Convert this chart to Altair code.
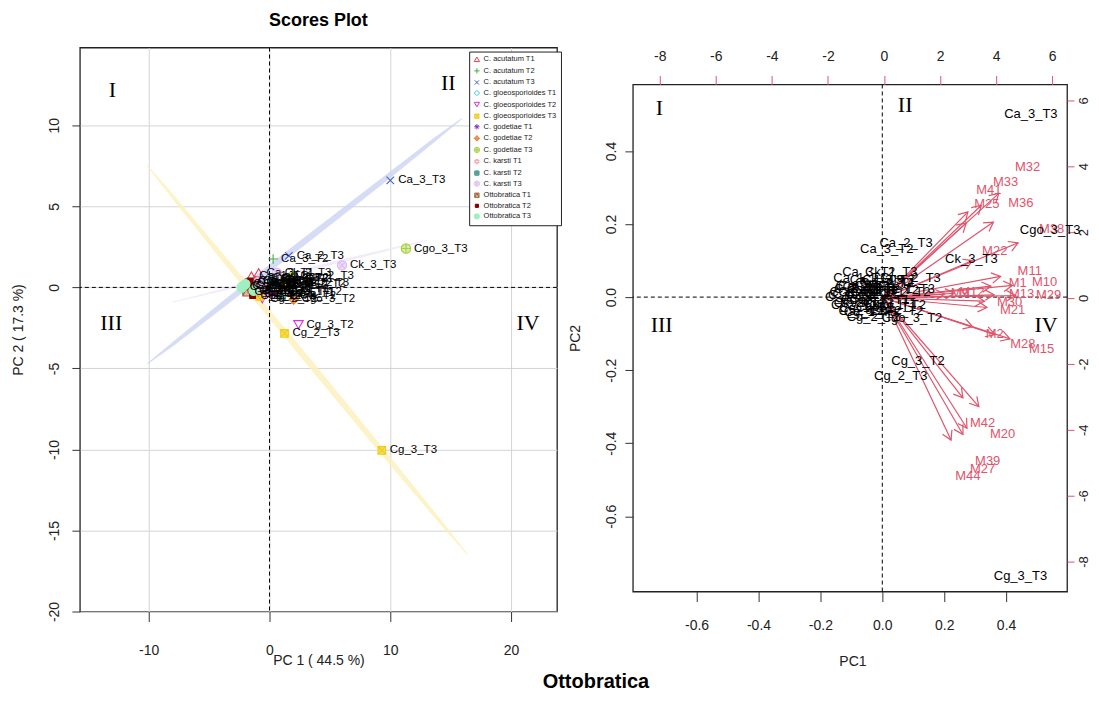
import altair as alt
import numpy as np
import pandas as pd

FONT = "Liberation Sans"
SERIF = "Liberation Serif"
RED = "#DF536B"

# ---------------- groups / legend ----------------
groups = ["C. acutatum T1", "C. acutatum T2", "C. acutatum T3",
          "C. gloeosporioides T1", "C. gloeosporioides T2", "C. gloeosporioides T3",
          "C. godetiae T1", "C. godetiae T2", "C. godetiae T3",
          "C. karsti T1", "C. karsti T2", "C. karsti T3",
          "Ottobratica T1", "Ottobratica T2", "Ottobratica T3"]
group_colors = ["#e0405a", "#3cb043", "#4060d8", "#38c8f0", "#e030e0", "#f0cc10",
                "#8030c0", "#f07828", "#a8d040", "#f4aab4", "#3a8f8a", "#dcbcf4",
                "#a06030", "#800000", "#9ef0c0"]
group_fills = ["transparent", "transparent", "transparent", "transparent", "transparent",
               "rgba(240,204,16,0.55)", "rgba(128,48,192,0.6)", "rgba(240,120,40,0.35)",
               "rgba(168,208,64,0.45)", "rgba(244,170,180,0.45)", "rgba(58,143,138,0.45)",
               "rgba(220,188,244,0.55)", "rgba(160,96,48,0.4)", "#800000", "#9ef0c0"]
group_shapes = [
    "triangle-up",
    "M-1,0L1,0M0,-1L0,1",
    "M-0.8,-0.8L0.8,0.8M-0.8,0.8L0.8,-0.8",
    "diamond",
    "triangle-down",
    "M-0.8,-0.8L0.8,-0.8L0.8,0.8L-0.8,0.8ZM-0.8,-0.8L0.8,0.8M-0.8,0.8L0.8,-0.8",
    "M-1,0L1,0M0,-1L0,1M-0.7,-0.7L0.7,0.7M-0.7,0.7L0.7,-0.7",
    "M0,-1L1,0L0,1L-1,0ZM-1,0L1,0M0,-1L0,1",
    "M-1,0A1,1,0,1,1,1,0A1,1,0,1,1,-1,0ZM-1,0L1,0M0,-1L0,1",
    "M0,-1L0.87,0.5L-0.87,0.5ZM0,1L0.87,-0.5L-0.87,-0.5Z",
    "M-0.8,-0.8L0.8,-0.8L0.8,0.8L-0.8,0.8ZM-0.8,0L0.8,0M0,-0.8L0,0.8",
    "M-1,0A1,1,0,1,1,1,0A1,1,0,1,1,-1,0ZM-0.7,-0.7L0.7,0.7M-0.7,0.7L0.7,-0.7",
    "M-0.8,-0.8L0.8,-0.8L0.8,0.8L-0.8,0.8ZM-0.8,0.8L0,-0.8L0.8,0.8",
    "M-0.6,-0.6L0.6,-0.6L0.6,0.6L-0.6,0.6Z",
    "circle",
]

# ---------------- sample scores (PC1, PC2) ----------------
samples = ["Ca_1_T1", "Ca_2_T1", "Ca_3_T1", "Ca_1_T2", "Ca_2_T2", "Ca_3_T2",
           "Ca_1_T3", "Ca_2_T3", "Ca_3_T3",
           "Cg_1_T1", "Cg_2_T1", "Cg_3_T1", "Cg_1_T2", "Cg_2_T2", "Cg_3_T2",
           "Cg_1_T3", "Cg_2_T3", "Cg_3_T3",
           "Cgo_1_T1", "Cgo_2_T1", "Cgo_3_T1", "Cgo_1_T2", "Cgo_2_T2", "Cgo_3_T2",
           "Cgo_1_T3", "Cgo_2_T3", "Cgo_3_T3",
           "Ck_1_T1", "Ck_2_T1", "Ck_3_T1", "Ck_1_T2", "Ck_2_T2", "Ck_3_T2",
           "Ck_1_T3", "Ck_2_T3", "Ck_3_T3",
           "C_1_T1", "C_2_T1", "C_3_T1", "C_1_T2", "C_2_T2", "C_3_T2",
           "C_1_T3", "C_2_T3", "C_3_T3"]
sample_group = [g for g in groups for _ in range(3)]
pc1 = [-1.5, -1.2, -0.9, -0.6, 0.3, 0.3, -0.4, 1.6, 10.0,
       -1.0, -0.3, 0.5, -1.1, -0.6, 2.4, -0.8, 1.24, 9.3,
       0.25, 0.2, -0.2, 0.9, 1.2, 2.0, 1.5, 1.9, 11.3,
       -1.2, -1.5, -0.7, 0.7, 1.0, 0.4, -0.9, 0.6, 6.0,
       -2.1, -1.9, -1.7, -1.8, -1.4, -1.6, -2.3, -2.0, -1.3]
pc2 = [0.7, 0.4, 0.9, 0.3, 0.5, 1.75, 0.6, 1.95, 6.6,
       -0.1, 0.2, -0.2, -0.4, -0.7, -2.3, -0.55, -2.84, -10.06,
       -0.37, 0.5, -0.1, -0.3, 0.2, -0.74, 0.3, 0.68, 2.4,
       0.2, -0.2, 0.1, 0.25, -0.5, 0.6, 0.35, 0.9, 1.36,
       0.06, -0.3, 0.3, 0.1, -0.5, 0.4, 0.0, 0.2, -0.2]
# biplot rescaling of the scores (right panel)
biplot_sx = 0.048
biplot_sy = 0.076

# ---------------- loadings (right panel, top/right axes) ----------------
load_names = ["M32", "M33", "M41", "M25", "M36", "M38", "M22", "M11", "M1", "M10",
              "M29", "M13", "M12", "M9", "M30", "M21", "M2", "M28", "M15",
              "M42", "M20", "M39", "M27", "M44"]
load_pc1 = [5.12, 4.34, 3.74, 3.67, 4.88, 5.98, 3.95, 5.20, 4.77, 5.73,
            5.87, 4.91, 3.13, 2.70, 4.48, 4.59, 3.95, 4.95, 5.62,
            3.52, 4.23, 3.70, 3.52, 2.99]
load_pc2 = [3.97, 3.52, 3.27, 2.85, 2.88, 2.09, 1.42, 0.82, 0.45, 0.48,
            0.09, 0.12, 0.18, 0.15, -0.12, -0.36, -1.09, -1.39, -1.55,
            -3.79, -4.12, -4.94, -5.18, -5.39]
arrow_frac = 0.8

# ---------------- confidence ellipses (left panel) ----------------
ell_name = ["Ca T3"] * 7 + ["Cg T3"] * 7 + ["Ck T3"] * 7
ell_pc1 = [-10.1, -8.0, -3.6, 2.9, 9.4, 13.8, 15.9,
           -10.1, -8.0, -3.5, 3.15, 9.75, 14.3, 16.4,
           -8.0, -6.3, -2.75, 2.5, 7.75, 11.3, 13.0]
ell_pc2 = [-4.7, -3.5, -0.9, 2.85, 6.6, 9.2, 10.4,
           7.5, 5.6, 1.5, -4.5, -10.5, -14.6, -16.5,
           -0.9, -0.6, 0.05, 1.0, 1.95, 2.6, 2.9]
ell_width = [0, 3.5, 5.5, 6.5, 5.5, 3.5, 0,
             0, 3.5, 5.5, 6.5, 5.5, 3.5, 0,
             0, 1.5, 2.5, 3, 2.5, 1.5, 0]
ell_order = list(range(7)) * 3
ell_colors = {"Ca T3": "#ccd3f4", "Cg T3": "#fcf0bc", "Ck T3": "#efe6f9"}

# quadrant labels
quad_txt = ["I", "II", "III", "IV"]
quad_left_x = [-13.0, 14.8, -13.1, 21.4]
quad_left_y = [12.2, 12.6, -2.2, -2.2]
quad_right_x = [-0.72, 0.074, -0.713, 0.529]
quad_right_y = [0.517, 0.525, -0.077, -0.077]

# ---------------- frames ----------------
LW, LH = 478, 565
RW, RH = 435, 508
L_XDOM = [-15.7, 23.8]
L_YDOM = [-20.0, 14.8]
R_XDOM = [-0.806, 0.597]
R_YDOM = [-0.806, 0.582]
R_LXDOM = [-8.96, 6.53]
R_LYDOM = [-8.91, 6.48]

scores = pd.DataFrame({"sample": samples, "group": sample_group, "pc1": pc1, "pc2": pc2})
ell = pd.DataFrame({"e": ell_name, "pc1": ell_pc1, "pc2": ell_pc2, "w": ell_width, "t": ell_order})
qleft = pd.DataFrame({"txt": quad_txt, "pc1": quad_left_x, "pc2": quad_left_y})
qright = pd.DataFrame({"txt": quad_txt, "sx": quad_right_x, "sy": quad_right_y})

minus_int = "(datum.value < 0 ? '-' : '') + abs(datum.value)"
minus_dec = "(datum.value < 0 ? '-' : '') + format(abs(datum.value), '.1f')"

# ================= LEFT PANEL =================
xl = alt.X("pc1:Q", scale=alt.Scale(domain=L_XDOM, nice=False, zero=False),
           axis=alt.Axis(values=[-10, 0, 10, 20], grid=True, gridColor="#d4d4d4",
                         tickSize=10, tickColor="#333", labelPadding=22, labelFontSize=14,
                         labelExpr=minus_int, labelFlush=False, labelOverlap=False,
                         domain=False, title="PC 1 ( 44.5 %)", titleFontSize=14,
                         titleFontWeight="normal", titleX=LW / 2, titleY=49,
                         titleBaseline="middle", titleColor="#222"))
yl = alt.Y("pc2:Q", scale=alt.Scale(domain=L_YDOM, nice=False, zero=False),
           axis=alt.Axis(values=[-20, -15, -10, -5, 0, 5, 10], grid=True, gridColor="#d4d4d4",
                         tickSize=8, tickColor="#333", labelPadding=10, labelFontSize=14,
                         labelAngle=270, labelAlign="center", labelBaseline="bottom",
                         labelExpr=minus_int, labelFlush=False, labelOverlap=False,
                         domain=False, title="PC 2 ( 17.3 %)", titleFontSize=14,
                         titleFontWeight="normal", titleAngle=270, titleX=-61, titleY=LH / 2,
                         titleAlign="center", titleBaseline="middle", titleColor="#222"))

ell_layers = []
for name in ["Ca T3", "Cg T3", "Ck T3"]:
    ell_layers.append(
        alt.Chart(ell[ell.e == name]).mark_trail(color=ell_colors[name], opacity=0.8).encode(
            x=xl, y=yl, size=alt.Size("w:Q", scale=None, legend=None), order=alt.Order("t:Q"))
    )

zero_l = pd.DataFrame({"pc1": [0.0], "pc2": [0.0]})
vline_l = alt.Chart(zero_l).mark_rule(color="black", strokeDash=[4, 3], strokeWidth=1).encode(x=xl)
hline_l = alt.Chart(zero_l).mark_rule(color="black", strokeDash=[4, 3], strokeWidth=1).encode(y=yl)

leg = alt.Legend(title=None, orient="none", legendX=390, legendY=4, strokeColor="#222",
                 fillColor="white", padding=4, labelFontSize=7.5, labelFont=FONT,
                 symbolSize=28, symbolStrokeWidth=1, rowPadding=1.6, labelLimit=200,
                 labelOffset=3, labelColor="#222", cornerRadius=0)
points = alt.Chart(scores).mark_point(filled=False, size=90, strokeWidth=1.1, opacity=1).encode(
    x=xl, y=yl,
    color=alt.Color("group:N", scale=alt.Scale(domain=groups, range=group_colors), legend=leg),
    shape=alt.Shape("group:N", scale=alt.Scale(domain=groups, range=group_shapes), legend=leg),
    fill=alt.Fill("group:N", scale=alt.Scale(domain=groups, range=group_fills), legend=leg),
)
labels_l = alt.Chart(scores).mark_text(align="left", baseline="middle", dx=8, fontSize=11.5,
                                       font=FONT, color="black").encode(x=xl, y=yl, text="sample:N")
quads_l = alt.Chart(qleft).mark_text(font=SERIF, fontSize=22, color="black").encode(
    x=xl, y=yl, text="txt:N")

left = alt.layer(*ell_layers, vline_l, hline_l, points, labels_l, quads_l).properties(
    width=LW, height=LH,
    title=alt.TitleParams("Scores Plot", fontSize=18, fontWeight="bold", font=FONT,
                          offset=17, anchor="middle", color="black"),
    view=alt.ViewBackground(stroke="#222", strokeWidth=1.3),
)

# ================= RIGHT PANEL =================
load = pd.DataFrame({"name": load_names, "lx": load_pc1, "ly": load_pc2})
load["tx"] = load["lx"] * arrow_frac
load["ty"] = load["ly"] * arrow_frac
load["x0"] = 0.0
load["y0"] = 0.0
px_x = RW / (R_LXDOM[1] - R_LXDOM[0])
px_y = RH / (R_LYDOM[1] - R_LYDOM[0])
load["ang"] = np.mod(np.degrees(np.arctan2(-load["ty"] * px_y, load["tx"] * px_x)), 360)

sxs = alt.Scale(domain=R_XDOM, nice=False, zero=False)
sys_ = alt.Scale(domain=R_YDOM, nice=False, zero=False)
lxs = alt.Scale(domain=R_LXDOM, nice=False, zero=False)
lys = alt.Scale(domain=R_LYDOM, nice=False, zero=False)

ax_bottom = alt.Axis(values=[-0.6, -0.4, -0.2, 0.0, 0.2, 0.4], labelExpr=minus_dec, grid=False,
                     tickSize=10, tickColor="#333", labelPadding=17, labelFontSize=14,
                     labelFlush=False, labelOverlap=False, domain=False, title="PC1",
                     titleFontSize=14, titleFontWeight="normal", titleX=220, titleY=70,
                     titleBaseline="middle", titleColor="#222")
ax_left = alt.Axis(values=[-0.6, -0.4, -0.2, 0.0, 0.2, 0.4], labelExpr=minus_dec, grid=False,
                   tickSize=8, tickColor="#333", labelPadding=6, labelFontSize=14,
                   labelAngle=270, labelAlign="center", labelBaseline="bottom",
                   labelFlush=False, labelOverlap=False, domain=False, title="PC2",
                   titleFontSize=14, titleFontWeight="normal", titleAngle=270, titleX=-57,
                   titleY=254, titleAlign="center", titleBaseline="middle", titleColor="#222")
ax_top = alt.Axis(orient="top", values=[-8, -6, -4, -2, 0, 2, 4, 6], labelExpr=minus_int,
                  grid=False, tickSize=9, tickColor=RED, labelPadding=12, labelFontSize=14,
                  labelFlush=False, labelOverlap=False, domain=False, title=None,
                  labelColor="#222")
ax_right = alt.Axis(orient="right", values=[-8, -6, -4, -2, 0, 2, 4, 6], labelExpr=minus_int,
                    grid=False, tickSize=7, tickColor=RED, labelPadding=3, labelFontSize=13,
                    labelAngle=270, labelAlign="center", labelBaseline="top",
                    labelFlush=False, labelOverlap=False, domain=False, title=None,
                    labelColor="#222")

zero_r = pd.DataFrame({"sx": [0.0], "sy": [0.0]})
vline_r = alt.Chart(zero_r).mark_rule(color="black", strokeDash=[4, 3], strokeWidth=1).encode(
    x=alt.X("sx:Q", scale=sxs, axis=None))
hline_r = alt.Chart(zero_r).mark_rule(color="black", strokeDash=[4, 3], strokeWidth=1).encode(
    y=alt.Y("sy:Q", scale=sys_, axis=None))

labels_r = alt.Chart(scores).transform_calculate(
    sx=f"datum.pc1 * {biplot_sx}", sy=f"datum.pc2 * {biplot_sy}"
).mark_text(fontSize=13, font=FONT, color="black").encode(
    x=alt.X("sx:Q", scale=sxs, axis=ax_bottom),
    y=alt.Y("sy:Q", scale=sys_, axis=ax_left),
    text="sample:N")

quads_r = alt.Chart(qright).mark_text(font=SERIF, fontSize=22, color="black").encode(
    x=alt.X("sx:Q", scale=sxs, axis=None), y=alt.Y("sy:Q", scale=sys_, axis=None), text="txt:N")

arrows = alt.Chart(load).mark_rule(color=RED, strokeWidth=1.2).encode(
    x=alt.X("x0:Q", scale=lxs, axis=ax_top),
    y=alt.Y("y0:Q", scale=lys, axis=ax_right),
    x2="tx:Q", y2="ty:Q")
heads = alt.Chart(load).mark_point(shape="M-1,-0.58L0,0L-1,0.58", filled=False, size=324,
                                   color=RED, strokeWidth=1.2, opacity=1).encode(
    x=alt.X("tx:Q", scale=lxs, axis=None), y=alt.Y("ty:Q", scale=lys, axis=None),
    angle=alt.Angle("ang:Q", scale=None))
load_labels = alt.Chart(load).mark_text(fontSize=13, font=FONT, color=RED).encode(
    x=alt.X("lx:Q", scale=lxs, axis=None), y=alt.Y("ly:Q", scale=lys, axis=None),
    text="name:N")

right = alt.layer(vline_r, hline_r, arrows, heads, load_labels, labels_r, quads_r).resolve_scale(
    x="independent", y="independent").properties(
    width=RW, height=RH, view=alt.ViewBackground(stroke="#222", strokeWidth=1.3))

spacer = alt.Chart(pd.DataFrame({"v": [0]})).mark_point(opacity=0).encode(
    x=alt.X("v:Q", axis=None), y=alt.Y("v:Q", axis=None)).properties(
    width=RW, height=37, view=alt.ViewBackground(stroke=None))

right_col = alt.vconcat(spacer, right, spacing=0, bounds="flush")

chart = alt.hconcat(left, right_col, spacing=9).properties(
    title=alt.TitleParams("Ottobratica", orient="bottom", anchor="middle", fontSize=20,
                          fontWeight="bold", font=FONT, color="black", dx=45, offset=3),
    padding={"left": 3, "top": 2, "right": 0, "bottom": 0},
).configure(font=FONT).configure_axis(labelFont=FONT, titleFont=FONT, labelColor="#222")

chart.save("out.html", embed_options={"renderer": "svg", "actions": False})
